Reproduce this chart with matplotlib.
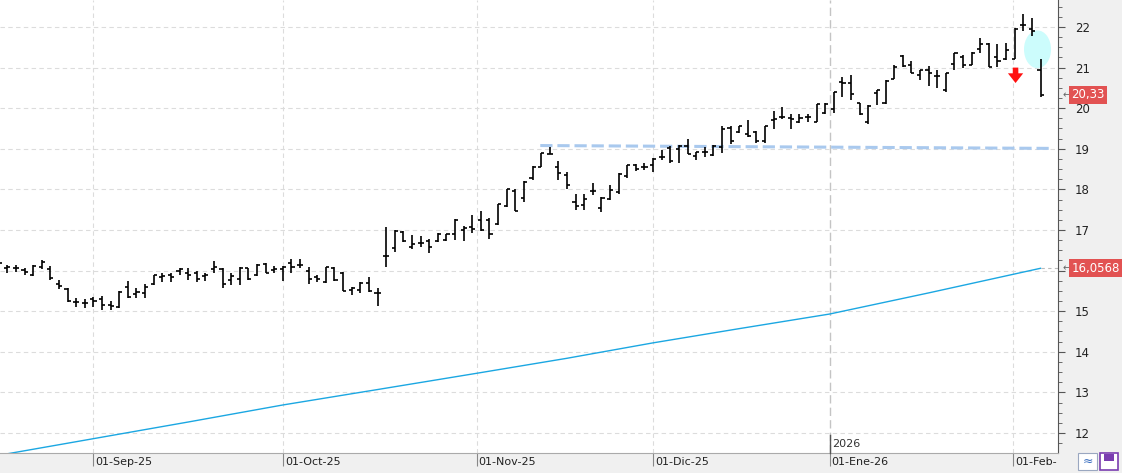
import matplotlib.pyplot as plt
from matplotlib.patches import Ellipse, Rectangle
from matplotlib.ticker import MultipleLocator
import matplotlib.transforms as mtransforms

# Datos diarios (apertura, maximo, minimo, cierre) - indice = sesion
opens = [16.2, 16.07, 16.06, 16.02, 15.9, 16.1, 16.05, 15.66, 15.54, 15.22,
         15.2, 15.3, 15.3, 15.15, 15.1, 15.6, 15.42, 15.45, 15.67, 15.85,
         15.88, 16.0, 15.95, 15.95, 15.86, 16.03, 16.03, 15.77, 15.8, 16.06,
         15.89, 16.17, 16.02, 16.03, 16.19, 16.13, 16.0, 15.85, 15.72, 16.06,
         15.94, 15.52, 15.52, 15.7, 15.44, 16.35, 16.55, 16.96, 16.58, 16.68,
         16.73, 16.73, 16.75, 16.9, 17.0, 17.08, 17.25, 17.25, 17.15, 17.58,
         17.95, 17.8, 18.28, 18.56, 18.88, 18.55, 18.36, 17.7, 17.62, 17.96,
         17.53, 17.77, 17.93, 18.32, 18.6, 18.54, 18.59, 18.79, 19.02, 18.99,
         19.06, 18.83, 18.93, 18.84, 19.05, 19.5, 19.42, 19.37, 19.42, 19.2,
         19.72, 19.78, 19.76, 19.65, 19.78, 19.66, 19.88, 19.97, 20.64, 20.63,
         20.12, 19.66, 20.38, 20.12, 20.73, 21.28, 21.07, 20.81, 20.93, 20.79,
         20.45, 21.09, 21.26, 21.06, 21.47, 21.59, 21.26, 21.2, 21.2, 22.04,
         21.94, 20.93]
highs = [16.25, 16.14, 16.13, 16.07, 16.14, 16.25, 16.12, 15.77, 15.56, 15.32,
         15.3, 15.36, 15.38, 15.24, 15.5, 15.75, 15.56, 15.66, 15.9, 15.95,
         15.93, 16.07, 16.06, 15.99, 15.93, 16.23, 16.06, 15.95, 16.1, 16.07,
         16.17, 16.19, 16.12, 16.12, 16.28, 16.28, 16.08, 15.9, 16.1, 16.08,
         15.96, 15.6, 15.71, 15.83, 15.56, 17.08, 17.0, 16.98, 16.88, 16.85,
         16.77, 16.92, 16.9, 17.26, 17.1, 17.37, 17.47, 17.29, 17.64, 18.02,
         18.0, 18.21, 18.58, 18.9, 19.05, 18.7, 18.44, 17.88, 17.88, 18.15,
         17.82, 18.1, 18.4, 18.6, 18.62, 18.65, 18.77, 18.98, 19.06, 19.1,
         19.24, 18.93, 19.04, 19.1, 19.56, 19.55, 19.57, 19.71, 19.45, 19.57,
         19.92, 20.02, 19.86, 19.85, 19.86, 20.1, 20.14, 20.41, 20.78, 20.82,
         20.13, 20.07, 20.45, 20.69, 21.06, 21.3, 21.17, 20.95, 21.03, 20.93,
         20.87, 21.36, 21.32, 21.38, 21.73, 21.6, 21.57, 21.6, 21.98, 22.33,
         22.23, 21.2]
lows = [16.1, 15.93, 15.97, 15.88, 15.87, 16.05, 15.78, 15.54, 15.22, 15.11,
        15.09, 15.11, 15.03, 15.03, 15.07, 15.32, 15.32, 15.32, 15.64, 15.73,
        15.73, 15.89, 15.77, 15.71, 15.74, 15.93, 15.56, 15.64, 15.65, 15.77,
        15.87, 15.93, 15.93, 15.74, 15.95, 16.06, 15.66, 15.72, 15.7, 15.74,
        15.49, 15.39, 15.45, 15.48, 15.12, 16.08, 16.47, 16.7, 16.53, 16.58,
        16.44, 16.7, 16.74, 16.75, 16.74, 16.93, 16.97, 16.78, 17.12, 17.57,
        17.46, 17.7, 18.23, 18.54, 18.86, 18.23, 18.0, 17.49, 17.49, 17.86,
        17.45, 17.74, 17.88, 18.29, 18.46, 18.48, 18.44, 18.73, 18.65, 18.65,
        18.87, 18.73, 18.8, 18.82, 18.9, 19.13, 19.4, 19.29, 19.15, 19.14,
        19.49, 19.74, 19.49, 19.63, 19.67, 19.65, 19.86, 19.88, 20.28, 20.2,
        19.84, 19.62, 20.08, 20.1, 20.71, 21.02, 20.87, 20.7, 20.54, 20.5,
        20.4, 20.93, 21.0, 21.06, 21.36, 21.02, 21.01, 21.18, 21.2, 21.9,
        21.77, 20.27]
closes = [16.18, 16.08, 16.07, 15.96, 16.12, 16.2, 15.82, 15.63, 15.24, 15.22,
          15.2, 15.25, 15.15, 15.13, 15.47, 15.35, 15.48, 15.6, 15.88, 15.86,
          15.85, 16.04, 15.9, 15.8, 15.9, 16.08, 15.68, 15.87, 16.06, 15.8,
          16.15, 15.94, 16.04, 16.1, 16.08, 16.13, 15.8, 15.8, 16.09, 15.78,
          15.49, 15.57, 15.7, 15.49, 15.44, 16.35, 16.98, 16.74, 16.65, 16.68,
          16.58, 16.9, 16.89, 17.24, 17.05, 17.02, 16.99, 16.9, 17.64, 18.0,
          17.46, 18.19, 18.56, 18.89, 18.87, 18.4, 18.11, 17.6, 17.77, 17.96,
          17.78, 17.99, 18.37, 18.59, 18.5, 18.54, 18.75, 18.81, 18.69, 19.08,
          18.87, 18.93, 18.92, 19.06, 19.48, 19.2, 19.55, 19.32, 19.18, 19.55,
          19.74, 19.78, 19.74, 19.77, 19.78, 20.1, 20.1, 20.39, 20.63, 20.35,
          19.86, 20.05, 20.44, 20.68, 21.02, 21.03, 20.87, 20.93, 20.87, 20.79,
          20.87, 21.36, 21.07, 21.36, 21.58, 21.02, 21.17, 21.44, 21.96, 22.04,
          21.91, 20.33]

# Media movil
ma_idx = [0, 11, 22, 33, 44, 55.5, 66, 76, 86, 96.5, 108, 121]
ma_val = [11.45, 11.86, 12.27, 12.69, 13.07, 13.47, 13.84, 14.22, 14.57, 14.93, 15.45, 16.0568]

# Linea de resistencia dibujada
res_x = [62.9, 122.1]
res_y = [19.08, 19.01]

# Etiquetas de meses (posicion en sesiones)
month_pos = [11, 33, 55.5, 76, 96.5, 117.8]
month_lbl = ["01-Sep-25", "01-Oct-25", "01-Nov-25", "01-Dic-25", "01-Ene-26", "01-Feb-"]
year_pos = 96.5

# Marcas: flecha de venta y elipse
sell_idx, sell_top, sell_tip = 118.1, 21.0, 20.62
ell_x, ell_y = 120.65, 21.45

fig = plt.figure(figsize=(11.22, 4.73), dpi=100, facecolor="#F0F0F0")
ax = fig.add_axes([0, 20 / 473, 1058 / 1122, 453 / 473])
ax.set_facecolor("white")

idx = list(range(len(closes)))

# Rejilla
for v in range(12, 23):
    ax.axhline(v, color="#DCDCDC", lw=0.8, ls=(0, (4, 3)), zorder=0)
for p in month_pos:
    if p == year_pos:
        ax.axvline(p, color="#C4C4C4", lw=1.0, ls=(0, (6, 3)), zorder=0)
    else:
        ax.axvline(p, color="#DCDCDC", lw=0.8, ls=(0, (4, 3)), zorder=0)

# Elipse
ax.add_patch(Ellipse((ell_x, ell_y), 3.14, 0.93, facecolor="#CCFCFC", edgecolor="none", zorder=1))

# Media movil
ax.plot(ma_idx, ma_val, color="#1BA7E2", lw=1.0, zorder=2)
ax.plot([ma_idx[-1], 124], [ma_val[-1], ma_val[-1]], color="#BBBBBB", lw=0.8, ls=(0, (3, 3)), zorder=1)

# Resistencia
ax.plot(res_x, res_y, color="#A9C9EE", lw=2.2, ls=(0, (4, 1.6)), zorder=2, solid_capstyle="butt")

# Barras OHLC
w = 0.36
ax.vlines(idx, lows, highs, color="black", lw=1.2, zorder=3)
ax.hlines(opens, [i - w for i in idx], idx, color="black", lw=1.2, zorder=3)
ax.hlines(closes, idx, [i + w for i in idx], color="black", lw=1.2, zorder=3)

# Flecha roja
ax.annotate("", xy=(sell_idx, sell_tip), xytext=(sell_idx, sell_top),
            arrowprops=dict(arrowstyle="simple,head_width=1.1,head_length=0.7,tail_width=0.4",
                            mutation_scale=10, color="#FF1010", lw=0, shrinkA=0, shrinkB=0),
            zorder=4)

ax.set_xlim(0.15, 123.03)
ax.set_ylim(11.507, 22.665)

# Eje Y a la derecha
ax.yaxis.tick_right()
ax.yaxis.set_major_locator(MultipleLocator(1))
ax.yaxis.set_minor_locator(MultipleLocator(0.25))
ax.tick_params(axis="y", which="major", direction="out", length=5, color="#555555",
               labelsize=8.5, labelcolor="#222222", pad=7)
ax.tick_params(axis="y", which="minor", direction="out", length=3, color="#555555")

# Eje X
ax.set_xticks(month_pos)
ax.set_xticklabels(month_lbl, ha="left")
ax.tick_params(axis="x", direction="out", length=9, color="#888888", labelsize=8,
               labelcolor="#222222", pad=-6)
offset = mtransforms.ScaledTranslation(2 / 100, 0, fig.dpi_scale_trans)
for lbl in ax.get_xticklabels():
    lbl.set_transform(lbl.get_transform() + offset)

for s in ["top", "left"]:
    ax.spines[s].set_visible(False)
ax.spines["right"].set_color("#555555")
ax.spines["bottom"].set_color("#AAAAAA")

# Separador de año
ax.plot([year_pos, year_pos], [11.507, 11.95], color="#555555", lw=1.0, zorder=3, clip_on=False)
ax.text(year_pos + 0.3, 11.74, "2026", fontsize=8, color="#333333", ha="left", va="center")

# Etiquetas de precio (tapan la etiqueta del eje, como en el original)
tr = mtransforms.blended_transform_factory(ax.transAxes, ax.transData)
for val, txt in [(closes[-1], "20,33"), (ma_val[-1], "16,0568")]:
    ax.text(1.0045, val, "←", transform=tr, fontsize=7, color="#666666", ha="left", va="center", clip_on=False)
    ax.text(1.0125, val, txt, transform=tr, fontsize=8.5, color="white", ha="left", va="center",
            clip_on=False, zorder=10,
            bbox=dict(boxstyle="square,pad=0.22", fc="#E25252", ec="none"))

# Iconos inferiores
fig.patches.append(Rectangle((1078 / 1122, 3 / 473), 19 / 1122, 17 / 473, transform=fig.transFigure,
                             facecolor="white", edgecolor="#9AA7C0", lw=0.8))
fig.text(1087.5 / 1122, 11.5 / 473, "≈", fontsize=9, color="#3B6FC0", ha="center", va="center")
fig.patches.append(Rectangle((1100 / 1122, 3 / 473), 18 / 1122, 17 / 473, transform=fig.transFigure,
                             facecolor="white", edgecolor="#7A3DB0", lw=1.2))
fig.patches.append(Rectangle((1104 / 1122, 12 / 473), 10 / 1122, 7 / 473, transform=fig.transFigure,
                             facecolor="#7A3DB0", edgecolor="none"))

plt.savefig("out.png", dpi=100, facecolor=fig.get_facecolor())
